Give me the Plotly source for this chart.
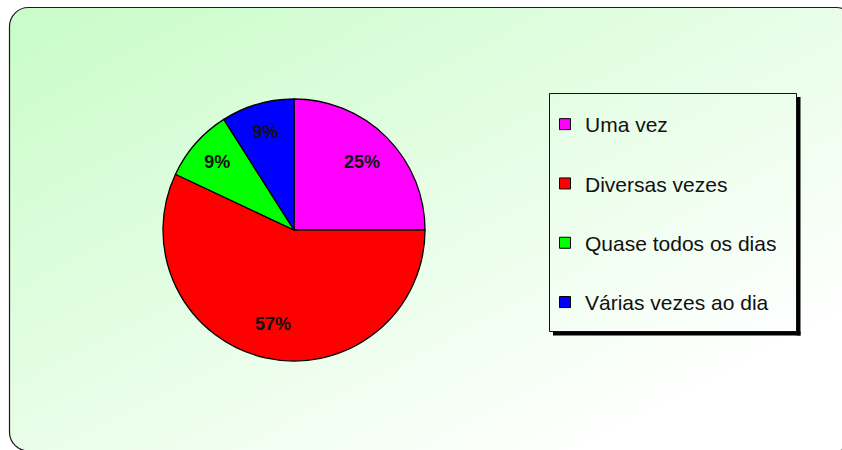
import base64
import plotly.graph_objects as go

# ---- data ----
labels = ["Uma vez", "Diversas vezes", "Quase todos os dias", "Várias vezes ao dia"]
values = [25, 57, 9, 9]
colors = ["#ff00ff", "#ff0000", "#00ff00", "#0000ff"]

W, H = 842, 450
FONT = "Liberation Sans, Arial, sans-serif"


def px(x):
    return x / W


def py(y):
    return 1 - y / H


# background frame with diagonal gradient (as an SVG image)
svg = f'''<svg xmlns="http://www.w3.org/2000/svg" width="{W}" height="{H}" viewBox="0 0 {W} {H}">
<defs><linearGradient id="g" x1="0" y1="0" x2="1" y2="1">
<stop offset="0" stop-color="rgb(200,252,200)"/>
<stop offset="0.85" stop-color="rgb(255,255,255)"/>
</linearGradient></defs>
<rect x="9.5" y="7.5" width="846" height="443.5" rx="19" ry="19" fill="url(#g)" stroke="#1a1a1a" stroke-width="1.2"/>
</svg>'''
src = "data:image/svg+xml;base64," + base64.b64encode(svg.encode("utf-8")).decode("ascii")

pie_domain = dict(x=[px(163), px(425)], y=[py(361), py(99)])

fig = go.Figure()

# the pie itself
fig.add_trace(go.Pie(
    labels=labels,
    values=values,
    sort=False,
    direction="clockwise",
    rotation=0,
    marker=dict(colors=colors, line=dict(color="black", width=1.3)),
    textinfo="none",
    domain=pie_domain,
    showlegend=False,
    hoverinfo="skip",
))

# percentage labels: same values on a transparent ring so the text sits further out
fig.add_trace(go.Pie(
    labels=labels,
    values=values,
    sort=False,
    direction="clockwise",
    rotation=0,
    hole=0.47,
    marker=dict(colors=["rgba(0,0,0,0)"] * len(values), line=dict(width=0)),
    texttemplate="%{percent:.0%}",
    textposition="inside",
    insidetextorientation="horizontal",
    textfont=dict(family=FONT, size=18, color="#111111", weight="bold"),
    domain=pie_domain,
    showlegend=False,
    hoverinfo="skip",
))

# legend entries (one group per category so the spacing can be set)
for lab, col in zip(labels, colors):
    fig.add_trace(go.Scatter(
        x=[None], y=[None], mode="markers", name=lab, legendgroup=lab,
        marker=dict(symbol="square", size=11, color=col, line=dict(color="black", width=1)),
        hoverinfo="skip",
    ))

shapes = [
    # legend shadow
    dict(type="rect", xref="paper", yref="paper", x0=px(796.5), x1=px(800.5), y0=py(97), y1=py(335.5),
         fillcolor="black", line=dict(width=0), layer="below"),
    dict(type="rect", xref="paper", yref="paper", x0=px(553), x1=px(800.5), y0=py(331.5), y1=py(335.5),
         fillcolor="black", line=dict(width=0), layer="below"),
    # legend box
    dict(type="rect", xref="paper", yref="paper", x0=px(549.5), x1=px(796.5), y0=py(93.5), y1=py(331.5),
         fillcolor="rgba(0,0,0,0)", line=dict(color="#111111", width=1), layer="below"),
]

fig.update_layout(
    width=W, height=H,
    margin=dict(l=0, r=0, t=0, b=0),
    paper_bgcolor="white",
    plot_bgcolor="rgba(0,0,0,0)",
    xaxis=dict(visible=False),
    yaxis=dict(visible=False),
    images=[dict(source=src, xref="paper", yref="paper", x=0, y=1, sizex=1, sizey=1,
                 xanchor="left", yanchor="top", sizing="stretch", layer="below")],
    shapes=shapes,
    showlegend=True,
    legend=dict(
        x=px(545), y=py(104), xanchor="left", yanchor="top",
        bgcolor="rgba(0,0,0,0)", borderwidth=0,
        font=dict(family=FONT, size=21, color="#111111"),
        tracegroupgap=29,
        traceorder="grouped",
    ),
)

fig.write_html("out.html", config={"displayModeBar": False},
               post_script="document.body.style.margin='0';")
